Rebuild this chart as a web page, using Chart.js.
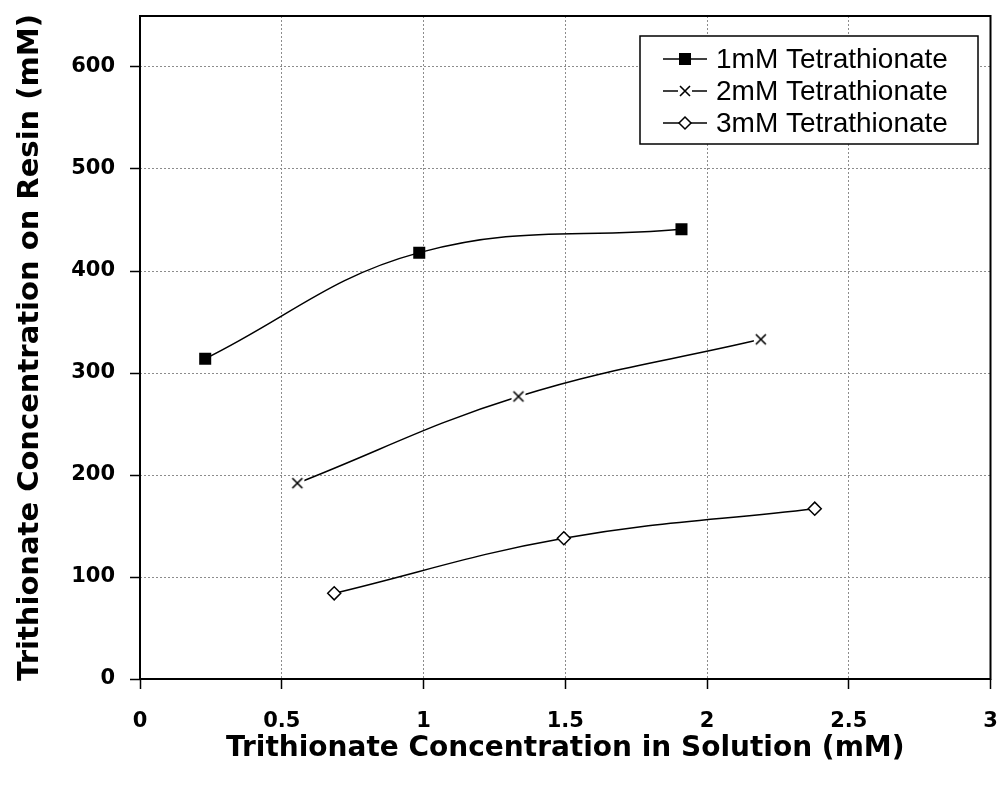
<!DOCTYPE html>
<html>
<head>
<meta charset="utf-8">
<script src="https://cdn.jsdelivr.net/npm/chart.js@4/dist/chart.umd.min.js"></script>
<style>
  html, body { margin: 0; padding: 0; background: #fff; }
  #wrap { width: 1000px; height: 792px; }
</style>
</head>
<body>
<div id="wrap"><canvas id="chart" width="1000" height="792"></canvas></div>
<script>
// values
const seriesNames = ['1mM Tetrathionate', '2mM Tetrathionate', '3mM Tetrathionate'];
const solution1 = [0.23, 0.985, 1.91];
const resin1 = [314, 418, 441];
const solution2 = [0.555, 1.335, 2.19];
const resin2 = [192, 277, 333];
const solution3 = [0.685, 1.495, 2.38];
const resin3 = [84, 138, 167];
const yTicks = [0, 100, 200, 300, 400, 500, 600];

const FONT = "'DejaVu Sans', sans-serif";
const LEGEND_FONT = "'Liberation Sans', Arial, sans-serif";

// x marker with a white patch behind it, like the reference
const crossMark = document.createElement('canvas');
crossMark.width = 16;
crossMark.height = 16;
(function () {
    const c = crossMark.getContext('2d');
    c.fillStyle = '#fff';
    c.fillRect(1, 1, 14, 14);
    c.strokeStyle = '#000';
    c.lineWidth = 1.6;
    c.beginPath();
    c.moveTo(3, 3); c.lineTo(13, 13);
    c.moveTo(13, 3); c.lineTo(3, 13);
    c.stroke();
})();

function pairs(xs, ys) {
    return xs.map((x, i) => ({ x: x, y: ys[i] }));
}

const frameAndLegend = {
    id: 'frameAndLegend',
    afterDraw(chart) {
        const ctx = chart.ctx;
        const a = chart.chartArea;
        ctx.save();
        ctx.strokeStyle = '#000';
        ctx.lineWidth = 2;
        ctx.strokeRect(a.left, a.top, a.right - a.left, a.bottom - a.top);

        // legend box
        const bx = 640, by = 36, bw = 338, bh = 108;
        ctx.fillStyle = '#fff';
        ctx.fillRect(bx, by, bw, bh);
        ctx.lineWidth = 1.5;
        ctx.strokeRect(bx, by, bw, bh);
        ctx.font = '28px ' + LEGEND_FONT;
        ctx.textBaseline = 'middle';
        const rows = [59, 91, 123];
        chart.data.datasets.forEach((ds, i) => {
            const y = rows[i];
            ctx.strokeStyle = '#000';
            ctx.lineWidth = 1.5;
            ctx.beginPath();
            ctx.moveTo(663, y);
            ctx.lineTo(707, y);
            ctx.stroke();
            if (i === 0) {
                ctx.fillStyle = '#000';
                ctx.fillRect(679, y - 6, 12, 12);
            } else if (i === 1) {
                ctx.drawImage(crossMark, 677, y - 8);
            } else {
                ctx.fillStyle = '#fff';
                ctx.beginPath();
                ctx.moveTo(685, y - 6);
                ctx.lineTo(691, y);
                ctx.lineTo(685, y + 6);
                ctx.lineTo(679, y);
                ctx.closePath();
                ctx.fill();
                ctx.stroke();
            }
            ctx.fillStyle = '#000';
            ctx.fillText(ds.label, 716, y + 1);
        });
        ctx.restore();
    }
};

new Chart(document.getElementById('chart'), {
    type: 'scatter',
    data: {
        datasets: [{
            label: seriesNames[0],
            data: pairs(solution1, resin1),
            showLine: true,
            borderColor: '#000',
            borderWidth: 1.5,
            tension: 0.4,
            pointStyle: 'rect',
            pointRadius: 8.5,
            pointBackgroundColor: '#000',
            pointBorderWidth: 0
        }, {
            label: seriesNames[1],
            data: pairs(solution2, resin2),
            showLine: true,
            borderColor: '#000',
            borderWidth: 1.5,
            tension: 0.4,
            pointStyle: crossMark,
            pointRadius: 8
        }, {
            label: seriesNames[2],
            data: pairs(solution3, resin3),
            showLine: true,
            borderColor: '#000',
            borderWidth: 1.5,
            tension: 0.4,
            pointStyle: 'rectRot',
            pointRadius: 6.5,
            pointBackgroundColor: '#fff',
            pointBorderColor: '#000',
            pointBorderWidth: 1.5
        }]
    },
    options: {
        responsive: false,
        animation: false,
        layout: { padding: { left: 0, top: 16, right: 7, bottom: 0 } },
        plugins: {
            legend: { display: false },
            tooltip: { enabled: false }
        },
        scales: {
            x: {
                type: 'linear',
                min: 0,
                max: 3,
                ticks: {
                    stepSize: 0.5,
                    color: '#000',
                    padding: 20,
                    font: { family: FONT, size: 21, weight: 'bold' },
                    callback: v => String(v)
                },
                grid: {
                    color: '#8c8c8c',
                    lineWidth: 1,
                    tickColor: '#000',
                    tickLength: 10,
                    tickWidth: 1.5
                },
                border: { display: false, dash: [2, 2] },
                title: {
                    display: true,
                    text: 'Trithionate Concentration in Solution (mM)',
                    color: '#000',
                    font: { family: FONT, size: 28, weight: 'bold' },
                    padding: { top: 0, bottom: 26 }
                },
                afterFit(scale) {
                    scale.height = 113;
                    scale.paddingLeft = 0;
                    scale.paddingRight = 0;
                }
            },
            y: {
                type: 'linear',
                min: 0,
                max: 650,
                afterBuildTicks(scale) {
                    scale.ticks = yTicks.map(v => ({ value: v }));
                },
                ticks: {
                    color: '#000',
                    padding: 15,
                    font: { family: FONT, size: 21, weight: 'bold' }
                },
                grid: {
                    color: '#8c8c8c',
                    lineWidth: 1,
                    tickColor: '#000',
                    tickLength: 10,
                    tickWidth: 1.5
                },
                border: { display: false, dash: [2, 2] },
                title: {
                    display: true,
                    text: 'Trithionate Concentration on Resin (mM)',
                    color: '#000',
                    font: { family: FONT, size: 29, weight: 'bold' },
                    padding: { top: 13, bottom: 0 }
                },
                afterFit(scale) {
                    scale.width = 140;
                    scale.paddingTop = 0;
                    scale.paddingBottom = 0;
                }
            }
        }
    },
    plugins: [frameAndLegend]
});
</script>
</body>
</html>
